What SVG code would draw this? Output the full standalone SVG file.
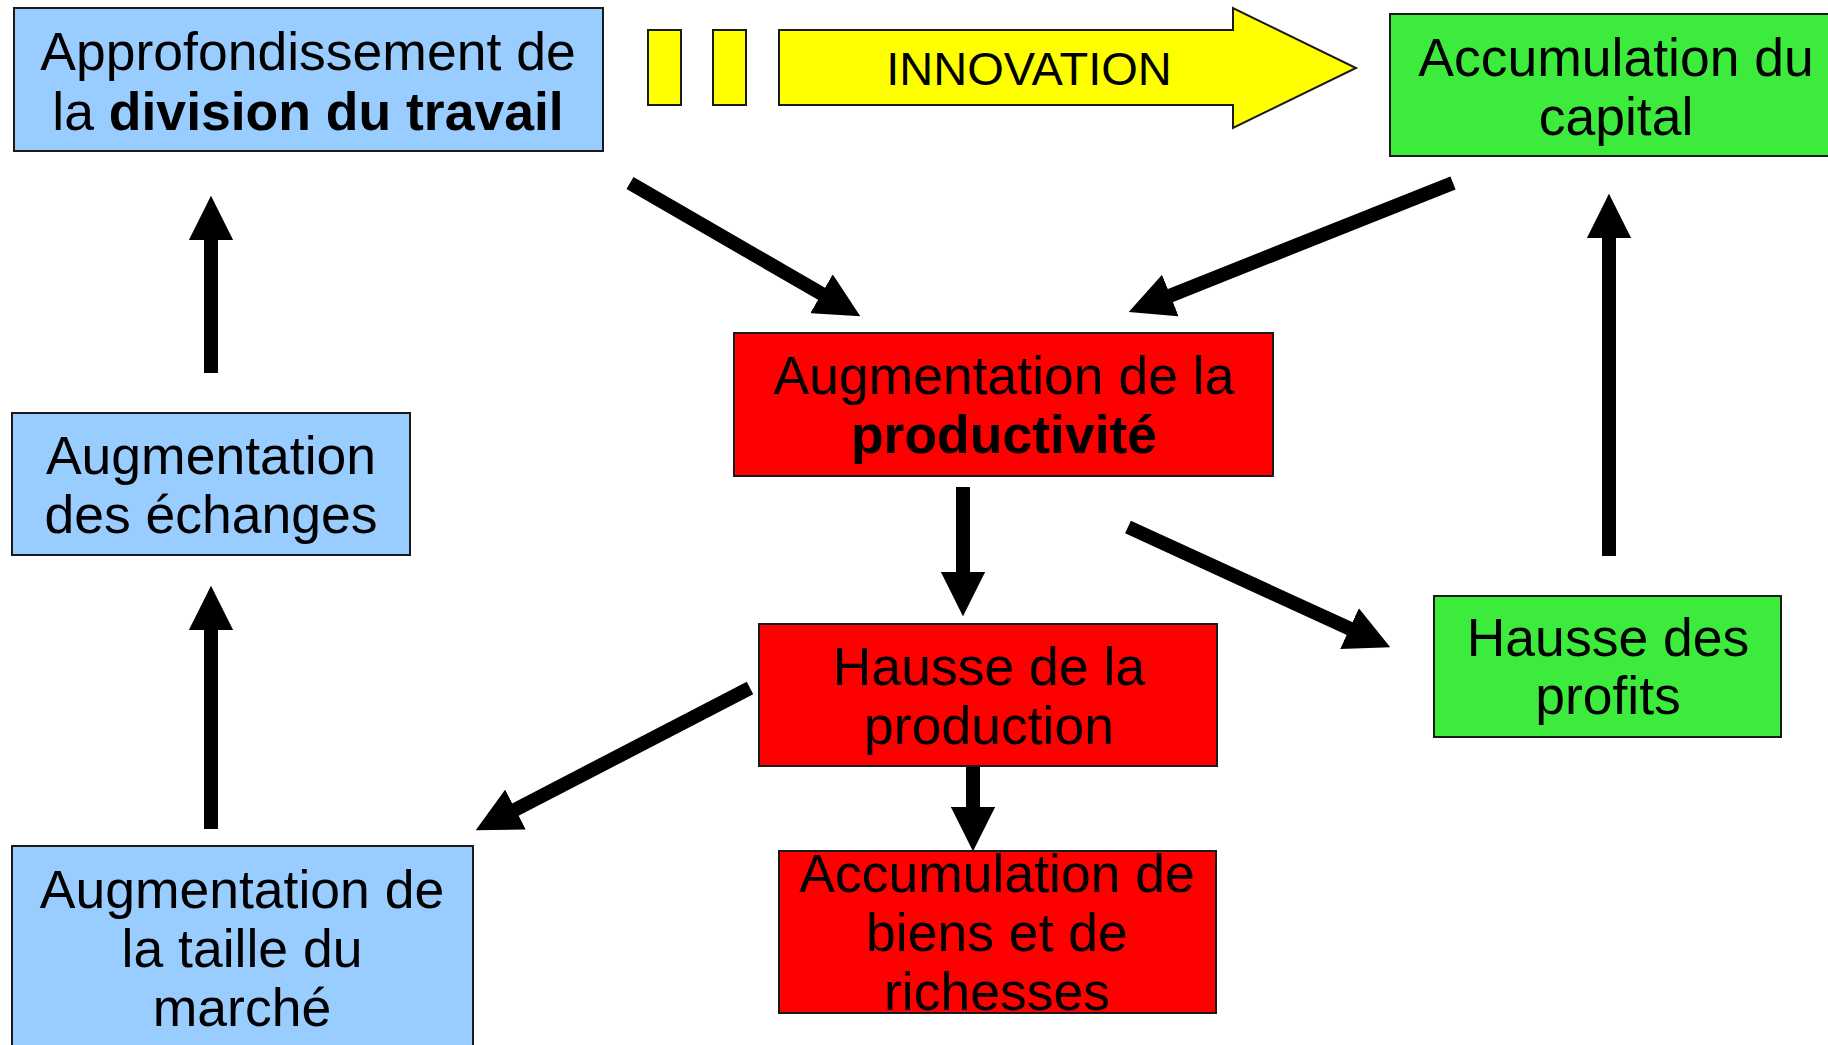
<svg xmlns="http://www.w3.org/2000/svg" width="1828" height="1045" viewBox="0 0 1828 1045">
<defs>
<style>
.box{stroke:#1a1a1a;stroke-width:2}
.blue{fill:#99ccff}.red{fill:#ff0000}.green{fill:#3deb3d}.yellow{fill:#ffff00;stroke:#1a1a1a;stroke-width:2}
text{font-family:"Liberation Sans",Arial,sans-serif;font-size:53.5px;fill:#000;text-anchor:middle}
.b{font-weight:bold}
.con{stroke:#000;stroke-width:14;fill:none;marker-end:url(#ah)}
</style>
<marker id="ah" viewBox="0 0 10 10" refX="1" refY="5" markerWidth="3.2" markerHeight="3.2" markerUnits="strokeWidth" orient="auto">
<path d="M0,0 L10,5 L0,10 z" fill="#000"/>
</marker>
</defs>
<rect width="1828" height="1045" fill="#fff"/>
<g id="connectors">
<line class="con" x1="211" y1="373" x2="211" y2="236"/>
<line class="con" x1="211" y1="829" x2="211" y2="626"/>
<line class="con" x1="963" y1="487" x2="963" y2="576"/>
<line class="con" x1="1609" y1="556" x2="1609" y2="234"/>
<line class="con" x1="973" y1="764" x2="973" y2="811"/>
<line class="con" x1="630" y1="183" x2="825.4" y2="296"/>
<line class="con" x1="1453" y1="183" x2="1166.2" y2="297.2"/>
<line class="con" x1="1128" y1="527" x2="1353.6" y2="630.4"/>
<line class="con" x1="750" y1="688" x2="511.5" y2="811.6"/>
</g>
<g id="innovation">
<rect class="yellow" x="648" y="30" width="33" height="75"/>
<rect class="yellow" x="713" y="30" width="33" height="75"/>
<path class="yellow" d="M779,30 L1233,30 L1233,8 L1356,68 L1233,128 L1233,105 L779,105 z"/>
<text x="1029" y="85" style="font-size:47px">INNOVATION</text>
</g>
<g id="n-division">
<rect class="box blue" x="14" y="8" width="589" height="143"/>
<text x="308" y="70">Approfondissement de</text>
<text x="308" y="130">la <tspan class="b">division du travail</tspan></text>
</g>
<g id="n-capital">
<rect class="box green" x="1390" y="14" width="445" height="142"/>
<text x="1616" y="76">Accumulation du</text>
<text x="1616" y="135">capital</text>
</g>
<g id="n-productivite">
<rect class="box red" x="734" y="333" width="539" height="143"/>
<text x="1004" y="394">Augmentation de la</text>
<text x="1004" y="453" class="b">productivité</text>
</g>
<g id="n-echanges">
<rect class="box blue" x="12" y="413" width="398" height="142"/>
<text x="211" y="474">Augmentation</text>
<text x="211" y="533">des échanges</text>
</g>
<g id="n-production">
<rect class="box red" x="759" y="624" width="458" height="142"/>
<text x="989" y="685">Hausse de la</text>
<text x="989" y="744">production</text>
</g>
<g id="n-profits">
<rect class="box green" x="1434" y="596" width="347" height="141"/>
<text x="1608" y="656">Hausse des</text>
<text x="1608" y="714">profits</text>
</g>
<g id="n-marche">
<rect class="box blue" x="12" y="846" width="461" height="210"/>
<text x="242" y="908">Augmentation de</text>
<text x="242" y="967">la taille du</text>
<text x="242" y="1026">marché</text>
</g>
<g id="n-richesses">
<rect class="box red" x="779" y="851" width="437" height="162"/>
<text x="997" y="892">Accumulation de</text>
<text x="997" y="951">biens et de</text>
<text x="997" y="1010">richesses</text>
</g>
</svg>
